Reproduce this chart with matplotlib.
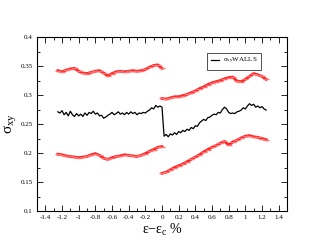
import numpy as np
import matplotlib
matplotlib.use("Agg")
import matplotlib.pyplot as plt
from matplotlib.ticker import MultipleLocator

# black curve (sigma_xy WALLS)
x_black_left = np.round(np.arange(-1.25, 0.0001, 0.025), 3)
y_black_left = [0.271, 0.269, 0.273, 0.266, 0.270, 0.264, 0.272, 0.266, 0.263, 0.268,
                0.264, 0.267, 0.263, 0.269, 0.265, 0.270, 0.268, 0.272, 0.267, 0.269,
                0.264, 0.265, 0.260, 0.262, 0.265, 0.267, 0.270, 0.266, 0.268, 0.271,
                0.267, 0.269, 0.266, 0.270, 0.267, 0.271, 0.268, 0.270, 0.266, 0.269,
                0.268, 0.270, 0.269, 0.272, 0.274, 0.278, 0.276, 0.282, 0.279, 0.281,
                0.279]
x_black_right = np.round(np.arange(0.025, 1.2501, 0.025), 3)
y_black_right = [0.229, 0.232, 0.228, 0.233, 0.231, 0.235, 0.232, 0.237, 0.235, 0.239,
                 0.237, 0.241, 0.239, 0.244, 0.242, 0.247, 0.246, 0.252, 0.255, 0.258,
                 0.256, 0.261, 0.262, 0.265, 0.267, 0.266, 0.270, 0.269, 0.275, 0.279,
                 0.276, 0.270, 0.268, 0.269, 0.268, 0.271, 0.272, 0.274, 0.278, 0.276,
                 0.281, 0.285, 0.282, 0.284, 0.279, 0.281, 0.278, 0.280, 0.276, 0.274]

# red bands
x_red_left = np.round(np.arange(-1.25, 0.0001, 0.05), 3)
upper_left = [0.342, 0.340, 0.343, 0.345, 0.346, 0.341, 0.338, 0.337, 0.339, 0.341,
              0.342, 0.338, 0.333, 0.337, 0.340, 0.341, 0.340, 0.341, 0.342, 0.341,
              0.342, 0.344, 0.348, 0.351, 0.352, 0.346]
lower_left = [0.198, 0.197, 0.195, 0.194, 0.193, 0.192, 0.193, 0.194, 0.197, 0.199,
              0.196, 0.191, 0.189, 0.192, 0.194, 0.195, 0.197, 0.196, 0.195, 0.194,
              0.196, 0.199, 0.203, 0.206, 0.210, 0.211]
x_red_right = np.round(np.arange(0.0, 1.2501, 0.05), 3)
upper_right = [0.294, 0.293, 0.295, 0.297, 0.297, 0.299, 0.301, 0.304, 0.307, 0.311,
               0.314, 0.318, 0.321, 0.323, 0.325, 0.328, 0.330, 0.331, 0.324, 0.323,
               0.327, 0.332, 0.337, 0.335, 0.332, 0.327]
lower_right = [0.165, 0.167, 0.171, 0.175, 0.178, 0.181, 0.185, 0.189, 0.193, 0.197,
               0.202, 0.206, 0.210, 0.213, 0.217, 0.220, 0.214, 0.219, 0.222, 0.226,
               0.229, 0.230, 0.228, 0.227, 0.225, 0.223]

plt.rcParams['font.family'] = ['Liberation Serif', 'DejaVu Serif']
plt.rcParams['mathtext.fontset'] = 'custom'
plt.rcParams['mathtext.rm'] = 'Liberation Serif'
plt.rcParams['mathtext.it'] = 'Liberation Serif'

fig = plt.figure(figsize=(3.23, 2.49), dpi=100)
ax = fig.add_axes([0.1146, 0.1526, 0.7739, 0.6988])

for xs, ys in [(x_red_left, upper_left), (x_red_left, lower_left),
               (x_red_right, upper_right), (x_red_right, lower_right)]:
    ax.plot(xs, ys, color='#ff2020', lw=2.0, zorder=2)
    ax.plot(xs, ys, ls='none', marker='_', ms=5, mew=1.0, color='#ff7070', zorder=2)

x_black = np.concatenate([x_black_left, x_black_right])
y_black = np.concatenate([y_black_left, y_black_right])
ax.plot(x_black, y_black, color='black', lw=0.9, label=r'$\sigma_{xy}$WALLS', zorder=3)

ax.set_xlim(-1.5, 1.5)
ax.set_ylim(0.1, 0.4)
ax.xaxis.set_minor_locator(MultipleLocator(0.1))
ax.yaxis.set_minor_locator(MultipleLocator(0.025))
ax.set_xticks(np.round(np.arange(-1.4, 1.41, 0.2), 1))
ax.set_xticklabels(['-1.4', '-1.2', '-1', '-0.8', '-0.6', '-0.4', '-0.2', '0',
                    '0.2', '0.4', '0.6', '0.8', '1', '1.2', '1.4'])
ax.set_yticks([0.1, 0.15, 0.2, 0.25, 0.3, 0.35, 0.4])
ax.set_yticklabels(['0.1', '0.15', '0.2', '0.25', '0.3', '0.35', '0.4'])
ax.tick_params(which='both', direction='in', top=True, right=True, labelsize=5, pad=3)
ax.tick_params(which='major', length=4, width=0.6)
ax.tick_params(which='minor', length=2, width=0.6)
for s in ax.spines.values():
    s.set_linewidth(0.8)

ax.set_xlabel('\u03b5\u2212\u03b5$_c$ %', fontsize=10, labelpad=1)
ax.set_ylabel('\u03c3$_{xy}$', fontsize=11, labelpad=2)

leg = ax.legend(loc='upper right', bbox_to_anchor=(0.91, 0.93), fontsize=5,
                fancybox=False, edgecolor='black', handlelength=1.2,
                borderpad=0.5, handletextpad=0.6)
leg.get_frame().set_linewidth(0.6)

fig.savefig('out.png', dpi=100)
